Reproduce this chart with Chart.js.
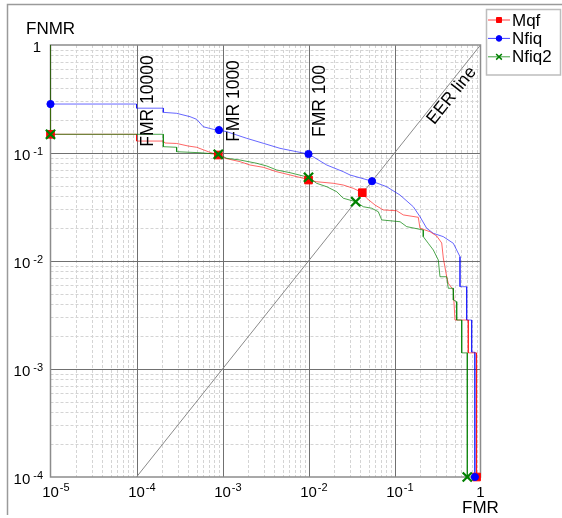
<!DOCTYPE html>
<html>
<head>
<meta charset="utf-8">
<script src="https://cdn.jsdelivr.net/npm/chart.js@4"></script>
<style>
  body { margin: 0; background: #fff; }
  #wrap { width: 562px; height: 518px; }
</style>
</head>
<body>
<div id="wrap"><canvas id="det-chart" width="562" height="518"></canvas></div>
<script>
// DET curves (FMR on x, FNMR on y)
const mqfFmr = [1e-5, 1e-5, 1e-4, 1e-4, 2.05e-4, 2.14e-4, 2.93e-4, 4.0e-4, 5.01e-4, 6.84e-4, 8.93e-4, 1.07e-3, 1.60e-3, 2.09e-3, 2.98e-3, 4.27e-3, 6.1e-3, 8.7e-3, 0.01, 0.01245, 0.0194, 0.0254, 0.0332, 0.0422, 0.0475, 0.0593, 0.0741, 0.106, 0.1266, 0.189, 0.198, 0.2588, 0.3095, 0.3539, 0.3694, 0.4046, 0.422, 0.483, 0.505, 0.721, 0.721, 0.9, 0.9];
const mqfFnmr = [1, 0.149, 0.149, 0.129, 0.129, 0.1238, 0.1225, 0.116, 0.113, 0.1028, 0.0958, 0.0893, 0.0831, 0.0774, 0.0737, 0.0671, 0.0626, 0.0583, 0.0562, 0.0542, 0.0524, 0.0505, 0.0471, 0.0429, 0.0381, 0.033, 0.0297, 0.0292, 0.0267, 0.0254, 0.0201, 0.01867, 0.01704, 0.01468, 0.01066, 0.00715, 0.00622, 0.00539, 0.00284, 0.00284, 0.00141, 0.00141, 1e-4];

const nfiqFmr = [1e-5, 1e-5, 1e-4, 1e-4, 2.05e-4, 2.05e-4, 2.93e-4, 4.19e-4, 5.01e-4, 5.98e-4, 7.82e-4, 9.1e-4, 1.12e-3, 1.91e-3, 2.98e-3, 4.66e-3, 7.29e-3, 0.01, 0.0163, 0.0254, 0.0304, 0.0548, 0.0812, 0.116, 0.1654, 0.198, 0.2367, 0.2827, 0.3694, 0.483, 0.5775, 0.5775, 0.691, 0.691, 0.79, 0.79, 0.86, 0.86];
const nfiqFnmr = [1, 0.284, 0.284, 0.26, 0.26, 0.238, 0.233, 0.217, 0.205, 0.175, 0.1657, 0.163, 0.1575, 0.1368, 0.123, 0.1105, 0.1028, 0.0979, 0.0774, 0.0671, 0.0626, 0.0548, 0.0487, 0.0408, 0.0318, 0.0257, 0.0201, 0.01805, 0.0168, 0.01458, 0.01096, 0.00578, 0.00578, 0.00284, 0.00284, 0.00143, 0.00143, 1e-4];

const nfiq2Fmr = [1e-5, 1e-5, 2.05e-4, 2.05e-4, 2.93e-4, 2.93e-4, 5.47e-4, 8.93e-4, 1.12e-3, 1.60e-3, 2.5e-3, 3.27e-3, 4.27e-3, 6.1e-3, 8.7e-3, 0.01, 0.01245, 0.0163, 0.0213, 0.0254, 0.0354, 0.0434, 0.0543, 0.0648, 0.071, 0.116, 0.1387, 0.216, 0.216, 0.247, 0.2827, 0.323, 0.338, 0.4046, 0.422, 0.483, 0.483, 0.529, 0.529, 0.605, 0.605, 0.702, 0.702];
const nfiq2Fnmr = [1, 0.149, 0.149, 0.1144, 0.113, 0.1028, 0.1006, 0.0973, 0.0893, 0.0861, 0.0803, 0.0758, 0.0696, 0.0657, 0.0612, 0.0596, 0.0524, 0.0487, 0.0438, 0.0381, 0.0354, 0.0318, 0.0308, 0.0286, 0.024, 0.0231, 0.0208, 0.01936, 0.0168, 0.01458, 0.01264, 0.01022, 0.00715, 0.00715, 0.00559, 0.00559, 0.00435, 0.0042, 0.00284, 0.00284, 0.00141, 0.00141, 1e-4];

// marked operating points (FMR 1e-5, ~1e-3, 1e-2, EER, end)
const mqfMarkFmr = [1e-5, 8.93e-4, 0.01, 0.0422, 0.9];
const mqfMarkFnmr = [0.149, 0.0958, 0.0562, 0.0429, 1e-4];
const nfiqMarkFmr = [1e-5, 9.1e-4, 0.01, 0.0548, 0.86];
const nfiqMarkFnmr = [0.284, 0.163, 0.0979, 0.0548, 1e-4];
const nfiq2MarkFmr = [1e-5, 8.93e-4, 0.01, 0.0354, 0.702];
const nfiq2MarkFnmr = [0.149, 0.0973, 0.0596, 0.0354, 1e-4];

const eerFmr = [1e-4, 1];
const eerFnmr = [1e-4, 1];

const xTicks = [1e-5, 1e-4, 1e-3, 1e-2, 1e-1, 1];
const yTicks = [1e-4, 1e-3, 1e-2, 1e-1, 1];
const fmrLines = [1e-4, 1e-3, 1e-2];
const fmrLabels = ['FMR 10000', 'FMR 1000', 'FMR 100'];
const minorSteps = [2, 3, 4, 5, 6, 7, 8, 9];

const FONT = '"Liberation Sans", Arial, sans-serif';

function toPoints(xs, ys) {
    return xs.map((x, i) => ({ x: x, y: ys[i] }));
}

function strokeLine(ctx, x1, y1, x2, y2) {
    ctx.beginPath();
    ctx.moveTo(x1, y1);
    ctx.lineTo(x2, y2);
    ctx.stroke();
}

// grid + plot frame, under the curves
const gridPlugin = {
    id: 'detGrid',
    beforeDatasetsDraw(chart) {
        const { ctx, chartArea: a, scales: { x, y } } = chart;
        ctx.save();
        ctx.lineWidth = 1;
        ctx.strokeStyle = '#d4d4d4';
        ctx.setLineDash([3, 2]);
        for (let i = 0; i < xTicks.length - 1; i++) {
            minorSteps.forEach(m => {
                const px = Math.round(x.getPixelForValue(xTicks[i] * m)) + 0.5;
                strokeLine(ctx, px, a.top, px, a.bottom);
            });
        }
        for (let i = 0; i < yTicks.length - 1; i++) {
            minorSteps.forEach(m => {
                const py = Math.round(y.getPixelForValue(yTicks[i] * m)) + 0.5;
                strokeLine(ctx, a.left, py, a.right, py);
            });
        }
        ctx.setLineDash([]);
        ctx.strokeStyle = '#707070';
        xTicks.slice(1, -1).forEach(v => {
            const px = Math.round(x.getPixelForValue(v)) + 0.5;
            strokeLine(ctx, px, a.top, px, a.bottom);
        });
        yTicks.slice(1, -1).forEach(v => {
            const py = Math.round(y.getPixelForValue(v)) + 0.5;
            strokeLine(ctx, a.left, py, a.right, py);
        });
        ctx.strokeStyle = '#8c8c8c';
        ctx.lineWidth = 1.5;
        ctx.strokeRect(a.left, a.top, a.right - a.left, a.bottom - a.top);
        ctx.restore();
    }
};

// texts, tick labels, legend, outer frame
const decorPlugin = {
    id: 'detDecor',
    afterDraw(chart) {
        const { ctx, chartArea: a, scales: { x, y } } = chart;
        ctx.save();
        ctx.fillStyle = '#000';

        // outer frame (top and left only)
        ctx.strokeStyle = '#9a9a9a';
        ctx.lineWidth = 1.5;
        ctx.beginPath();
        ctx.moveTo(7.5, 515);
        ctx.lineTo(7.5, 4.5);
        ctx.lineTo(562, 4.5);
        ctx.stroke();

        // x tick labels
        xTicks.forEach(v => {
            const px = x.getPixelForValue(v);
            const e = Math.round(Math.log10(v));
            ctx.font = '15px ' + FONT;
            ctx.textBaseline = 'alphabetic';
            if (e === 0) {
                ctx.textAlign = 'center';
                ctx.fillText('1', px, a.bottom + 20);
                return;
            }
            const w10 = ctx.measureText('10').width;
            ctx.textAlign = 'left';
            ctx.fillText('10', px - w10 / 2, a.bottom + 20);
            ctx.font = '11px ' + FONT;
            ctx.fillText(String(e), px + w10 / 2 + 1, a.bottom + 14);
        });

        // y tick labels
        yTicks.forEach(v => {
            const py = y.getPixelForValue(v);
            const e = Math.round(Math.log10(v));
            ctx.textBaseline = 'alphabetic';
            ctx.textAlign = 'left';
            ctx.font = '15px ' + FONT;
            if (e === 0) {
                ctx.textAlign = 'right';
                ctx.fillText('1', 41, py + 7);
                return;
            }
            const w10 = ctx.measureText('10').width;
            ctx.font = '11px ' + FONT;
            const we = ctx.measureText(String(e)).width;
            const start = 43 - we - 3 - w10;
            ctx.font = '15px ' + FONT;
            ctx.fillText('10', start, py + 7);
            ctx.font = '11px ' + FONT;
            ctx.fillText(String(e), start + w10 + 3, py + 2);
        });

        // axis titles
        ctx.font = '17px ' + FONT;
        ctx.textAlign = 'left';
        ctx.fillText('FNMR', 26, 34);
        ctx.fillText('FMR', 462, 513);

        // FMR operating lines labels
        ctx.font = '17.5px ' + FONT;
        ctx.textAlign = 'center';
        ctx.textBaseline = 'middle';
        fmrLines.forEach((v, i) => {
            ctx.save();
            ctx.translate(x.getPixelForValue(v) + 11.5, 101);
            ctx.rotate(-Math.PI / 2);
            ctx.fillText(fmrLabels[i], 0, 0);
            ctx.restore();
        });

        // EER line label, along the diagonal
        const x1 = x.getPixelForValue(eerFmr[0]), y1 = y.getPixelForValue(eerFnmr[0]);
        const x2 = x.getPixelForValue(eerFmr[1]), y2 = y.getPixelForValue(eerFnmr[1]);
        const t = 0.896;
        ctx.save();
        ctx.translate(x1 + (x2 - x1) * t, y1 + (y2 - y1) * t);
        ctx.rotate(Math.atan2(y2 - y1, x2 - x1));
        ctx.fillText('EER line', 0, 9);
        ctx.restore();

        // legend
        ctx.strokeStyle = '#bdbdbd';
        ctx.lineWidth = 1.5;
        ctx.strokeRect(486.5, 9.5, 74, 65.5);
        const rows = [
            { label: 'Mqf', color: 'rgba(255,0,0,0.75)', mark: '#ff0000', style: 'rect', r: 3.5 },
            { label: 'Nfiq', color: 'rgba(0,0,255,0.75)', mark: '#0000ff', style: 'circle', r: 2.8 },
            { label: 'Nfiq2', color: 'rgba(0,128,0,0.75)', mark: '#008000', style: 'crossRot', r: 4 }
        ];
        rows.forEach((row, i) => {
            const ly = 20 + i * 18.4;
            ctx.strokeStyle = row.color;
            ctx.lineWidth = 1;
            strokeLine(ctx, 488, ly, 510, ly);
            ctx.fillStyle = row.mark;
            ctx.strokeStyle = row.mark;
            ctx.lineWidth = row.style === 'crossRot' ? 1.5 : 1;
            Chart.helpers.drawPoint(ctx, { pointStyle: row.style, radius: row.r, rotation: 0, borderWidth: ctx.lineWidth }, 499, ly);
            ctx.fillStyle = '#000';
            ctx.font = '17px ' + FONT;
            ctx.textAlign = 'left';
            ctx.textBaseline = 'middle';
            ctx.fillText(row.label, 512, ly + 1);
        });
        ctx.restore();
    }
};

const lineBase = { pointRadius: 0, borderWidth: 1, tension: 0, fill: false };
const markBase = { showLine: false, clip: false, pointHoverRadius: 0 };

new Chart(document.getElementById('det-chart'), {
    type: 'line',
    data: {
        datasets: [
            { ...markBase, label: 'Nfiq2 marks', data: toPoints(nfiq2MarkFmr, nfiq2MarkFnmr), order: 0,
              pointStyle: 'crossRot', pointRadius: 6.5, borderColor: '#008000', backgroundColor: '#008000', pointBorderWidth: 2.2 },
            { ...markBase, label: 'Nfiq marks', data: toPoints(nfiqMarkFmr, nfiqMarkFnmr), order: 1,
              pointStyle: 'circle', pointRadius: 3.6, borderColor: '#0000ff', backgroundColor: '#0000ff', pointBorderWidth: 1 },
            { ...markBase, label: 'Mqf marks', data: toPoints(mqfMarkFmr, mqfMarkFnmr), order: 2,
              pointStyle: 'rect', pointRadius: 5.4, borderColor: '#ff0000', backgroundColor: '#ff0000', pointBorderWidth: 1 },
            { ...lineBase, label: 'Nfiq2', data: toPoints(nfiq2Fmr, nfiq2Fnmr), order: 3, borderColor: 'rgba(0,128,0,0.7)' },
            { ...lineBase, label: 'Mqf', data: toPoints(mqfFmr, mqfFnmr), order: 4, borderColor: 'rgba(255,0,0,0.6)' },
            { ...lineBase, label: 'Nfiq', data: toPoints(nfiqFmr, nfiqFnmr), order: 5, borderColor: 'rgba(0,0,255,0.6)' },
            { ...lineBase, label: 'EER line', data: toPoints(eerFmr, eerFnmr), order: 6, borderColor: '#8a8a8a' }
        ]
    },
    options: {
        responsive: false,
        animation: false,
        layout: { padding: { left: 50.5, right: 81.5, top: 45, bottom: 41 } },
        plugins: { legend: { display: false }, tooltip: { enabled: false } },
        scales: {
            x: {
                type: 'logarithmic', min: 1e-5, max: 1,
                grid: { display: false }, ticks: { display: false }, border: { display: false },
                afterFit: s => { s.height = 0; }
            },
            y: {
                type: 'logarithmic', min: 1e-4, max: 1,
                grid: { display: false }, ticks: { display: false }, border: { display: false },
                afterFit: s => { s.width = 0; }
            }
        }
    },
    plugins: [gridPlugin, decorPlugin]
});
</script>
</body>
</html>
